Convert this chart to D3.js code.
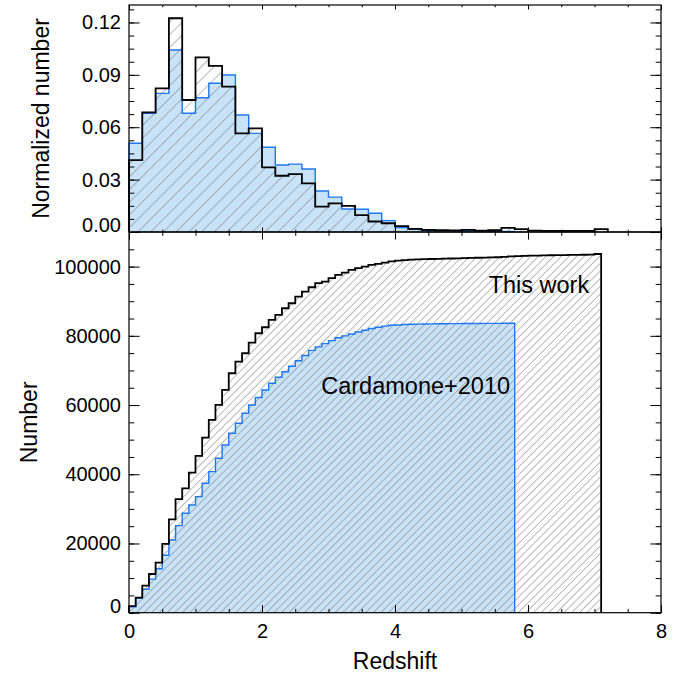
<!DOCTYPE html>
<html>
<head>
<meta charset="utf-8">
<script src="https://cdn.jsdelivr.net/npm/d3@7"></script>
<style>
  body { margin: 0; background: #fff; }
  text { font-family: "Liberation Sans", Arial, Helvetica, sans-serif; fill: #000; }
</style>
</head>
<body>
<svg id="chart" width="694" height="674"></svg>
<script>
// Normalized histograms, bins of 0.2 in redshift starting at 0
const histBin = 0.2;
const histThisWork = [
  0.0412, 0.0685, 0.0823, 0.1224, 0.0756, 0.1000, 0.0951, 0.0832, 0.0565, 0.0594,
  0.0370, 0.0322, 0.0332, 0.0278, 0.0145, 0.0164, 0.0150, 0.0097, 0.0060, 0.0050,
  0.0034, 0.0018, 0.0012, 0.0010, 0.0009, 0.0012, 0.0008, 0.0010, 0.0024, 0.0016,
  0.0008, 0.0007, 0.0006, 0.0006, 0.0007, 0.0016
];
const histCardamone = [
  0.0508, 0.0680, 0.0794, 0.1042, 0.0680, 0.0769, 0.0852, 0.0899, 0.0670, 0.0565,
  0.0485, 0.0384, 0.0389, 0.0361, 0.0235, 0.0200, 0.0132, 0.0130, 0.0107, 0.0065,
  0.0025, 0.0015, 0.0010, 0.0008, 0.0006, 0.0006, 0.0005, 0.0004, 0.0003
];

// Cumulative numbers, bins of 0.1 in redshift starting at 0
const cumBin = 0.1;
const cumThisWork = [
  1900, 4340, 7800, 11180, 14450, 19860, 26990, 32800, 35950, 40460,
  45290, 50580, 55690, 60030, 64360, 69190, 72540, 74960, 78030, 80750,
  82480, 84590, 86040, 87970, 89420, 91330, 92780, 94040, 95200, 95670,
  96650, 97600, 98270, 99050, 99540, 100000, 100490, 100800, 101150, 101500,
  101720, 101890, 101990, 102080, 102140, 102200, 102250, 102300, 102350, 102400,
  102460, 102520, 102560, 102600, 102650, 102710, 102840, 102960, 103040, 103120,
  103160, 103200, 103240, 103280, 103310, 103340, 103370, 103400, 103430, 103470,
  103650
];
const cumCardamone = [
  1700, 4240, 6760, 9700, 12700, 16600, 21000, 25150, 28720, 31130,
  33530, 37400, 40750, 44620, 48470, 51850, 54740, 57630, 60030, 62200,
  64360, 66300, 68030, 69600, 71200, 72800, 74300, 75800, 76800, 77760,
  78600, 79430, 80000, 80530, 81100, 81620, 82100, 82500, 82800, 83050,
  83150, 83260, 83330, 83390, 83420, 83460, 83480, 83500, 83520, 83540,
  83550, 83560, 83580, 83590, 83600, 83610, 83620, 83640
];

const xTicks = [0, 2, 4, 6, 8];
const topTicks = [0, 0.03, 0.06, 0.09, 0.12];
const bottomTicks = [0, 20000, 40000, 60000, 80000, 100000];

const blueLine = '#1f77f2';
const blueFill = '#c8e2f8';
const hatchGrey = '#808080';

const svg = d3.select('#chart');
const left = 129, right = 661;
const topPanel = { y0: 5, y1: 232 };
const botPanel = { y0: 232, y1: 612.7 };

const x = d3.scaleLinear().domain([0, 8]).range([left, right]);
const yTop = d3.scaleLinear().domain([0, 0.13]).range([topPanel.y1, topPanel.y0]);
const yBot = d3.scaleLinear().domain([0, 110000]).range([botPanel.y1, botPanel.y0]);

// Hatch patterns
const defs = svg.append('defs');
const makeHatch = (id, gap) => {
  defs.append('pattern')
      .attr('id', id)
      .attr('patternUnits', 'userSpaceOnUse')
      .attr('width', gap)
      .attr('height', gap)
      .attr('patternTransform', 'rotate(45)')
    .append('line')
      .attr('x1', 0).attr('y1', 0)
      .attr('x2', 0).attr('y2', gap)
      .attr('stroke', hatchGrey)
      .attr('stroke-width', 1.1);
};
makeHatch('hatchTop', 9);
makeHatch('hatchBot', 5.4);

// Step points: start at 0, one level per bin, drop back to 0 at the end
const stepPoints = (values, w) => {
  const pts = [[0, 0]];
  values.forEach((v, i) => pts.push([i * w, v]));
  pts.push([values.length * w, values[values.length - 1]]);
  pts.push([values.length * w, 0]);
  return pts;
};

const drawPanel = (yScale, a, b, w, hatchId) => {
  const g = svg.append('g');
  const area = d3.area()
    .curve(d3.curveStepAfter)
    .x(d => x(d[0]))
    .y0(yScale(0))
    .y1(d => yScale(d[1]));
  const line = d3.line()
    .curve(d3.curveStepAfter)
    .x(d => x(d[0]))
    .y(d => yScale(d[1]));

  const ptsA = stepPoints(a, w); // this work
  const ptsB = stepPoints(b, w); // Cardamone+2010

  g.append('path').attr('d', area(ptsB)).attr('fill', blueFill);
  g.append('path').attr('d', area(ptsA)).attr('fill', `url(#${hatchId})`);
  g.append('path').attr('d', line(ptsB))
    .attr('fill', 'none').attr('stroke', blueLine).attr('stroke-width', 1.4);
  g.append('path').attr('d', line(ptsA))
    .attr('fill', 'none').attr('stroke', '#000').attr('stroke-width', 1.8);
};

drawPanel(yTop, histThisWork, histCardamone, histBin, 'hatchTop');
drawPanel(yBot, cumThisWork, cumCardamone, cumBin, 'hatchBot');

// Axes with inward ticks on all sides (IDL style)
const xMinor = d3.range(0, 8.01, 0.5);
const styleAxis = g => {
  g.select('.domain').remove();
  g.selectAll('line').attr('stroke', '#000').attr('stroke-width', 1);
  g.selectAll('text').style('font-size', '20px').attr('fill', '#000');
};

const drawAxes = (yScale, panel, yMajor, yMinorStep, yFmt, xLabels) => {
  const h = panel.y1 - panel.y0;
  const w = right - left;
  const xMaj = 0.02 * h, yMaj = 0.02 * w;
  const yMinor = d3.range(yScale.domain()[0], yScale.domain()[1] + 1e-9, yMinorStep);

  // bottom
  svg.append('g').attr('transform', `translate(0,${panel.y1})`)
    .call(d3.axisBottom(x).tickValues(xMinor).tickSize(-xMaj / 2).tickFormat(''))
    .call(styleAxis);
  svg.append('g').attr('transform', `translate(0,${panel.y1})`)
    .call(d3.axisBottom(x).tickValues(xTicks).tickSize(-xMaj).tickPadding(11)
      .tickFormat(xLabels ? d3.format('d') : ''))
    .call(styleAxis);
  // top
  svg.append('g').attr('transform', `translate(0,${panel.y0})`)
    .call(d3.axisTop(x).tickValues(xMinor).tickSize(-xMaj / 2).tickFormat(''))
    .call(styleAxis);
  svg.append('g').attr('transform', `translate(0,${panel.y0})`)
    .call(d3.axisTop(x).tickValues(xTicks).tickSize(-xMaj).tickFormat(''))
    .call(styleAxis);
  // left
  svg.append('g').attr('transform', `translate(${left},0)`)
    .call(d3.axisLeft(yScale).tickValues(yMinor).tickSize(-yMaj / 2).tickFormat(''))
    .call(styleAxis);
  const yl = svg.append('g').attr('transform', `translate(${left},0)`)
    .call(d3.axisLeft(yScale).tickValues(yMajor).tickSize(-yMaj).tickPadding(8).tickFormat(yFmt))
    .call(styleAxis);
  // lowest label is lifted off the axis line
  yl.selectAll('.tick').filter(d => d === 0).select('text').attr('y', -7);
  // right
  svg.append('g').attr('transform', `translate(${right},0)`)
    .call(d3.axisRight(yScale).tickValues(yMinor).tickSize(-yMaj / 2).tickFormat(''))
    .call(styleAxis);
  svg.append('g').attr('transform', `translate(${right},0)`)
    .call(d3.axisRight(yScale).tickValues(yMajor).tickSize(-yMaj).tickFormat(''))
    .call(styleAxis);
  // frame
  svg.append('rect')
    .attr('x', left).attr('y', panel.y0)
    .attr('width', w).attr('height', h)
    .attr('fill', 'none').attr('stroke', '#000').attr('stroke-width', 1.2);
};

drawAxes(yTop, topPanel, topTicks, 0.0075, d3.format('.2f'), false);
drawAxes(yBot, botPanel, bottomTicks, 5000, d3.format('d'), true);

// Axis titles
svg.append('text')
  .attr('transform', `translate(49,${(topPanel.y0 + topPanel.y1) / 2}) rotate(-90)`)
  .attr('text-anchor', 'middle')
  .style('font-size', '23px')
  .text('Normalized number');
svg.append('text')
  .attr('transform', `translate(37,${(botPanel.y0 + botPanel.y1) / 2}) rotate(-90)`)
  .attr('text-anchor', 'middle')
  .style('font-size', '23px')
  .text('Number');
svg.append('text')
  .attr('x', (left + right) / 2).attr('y', 669)
  .attr('text-anchor', 'middle')
  .style('font-size', '23px')
  .text('Redshift');

// Labels for the two samples
svg.append('text')
  .attr('x', x(6.92)).attr('y', yBot(92500))
  .attr('text-anchor', 'end')
  .style('font-size', '23.5px')
  .text('This work');
svg.append('text')
  .attr('x', x(5.73)).attr('y', yBot(63300))
  .attr('text-anchor', 'end')
  .style('font-size', '23.5px')
  .text('Cardamone+2010');
</script>
</body>
</html>
